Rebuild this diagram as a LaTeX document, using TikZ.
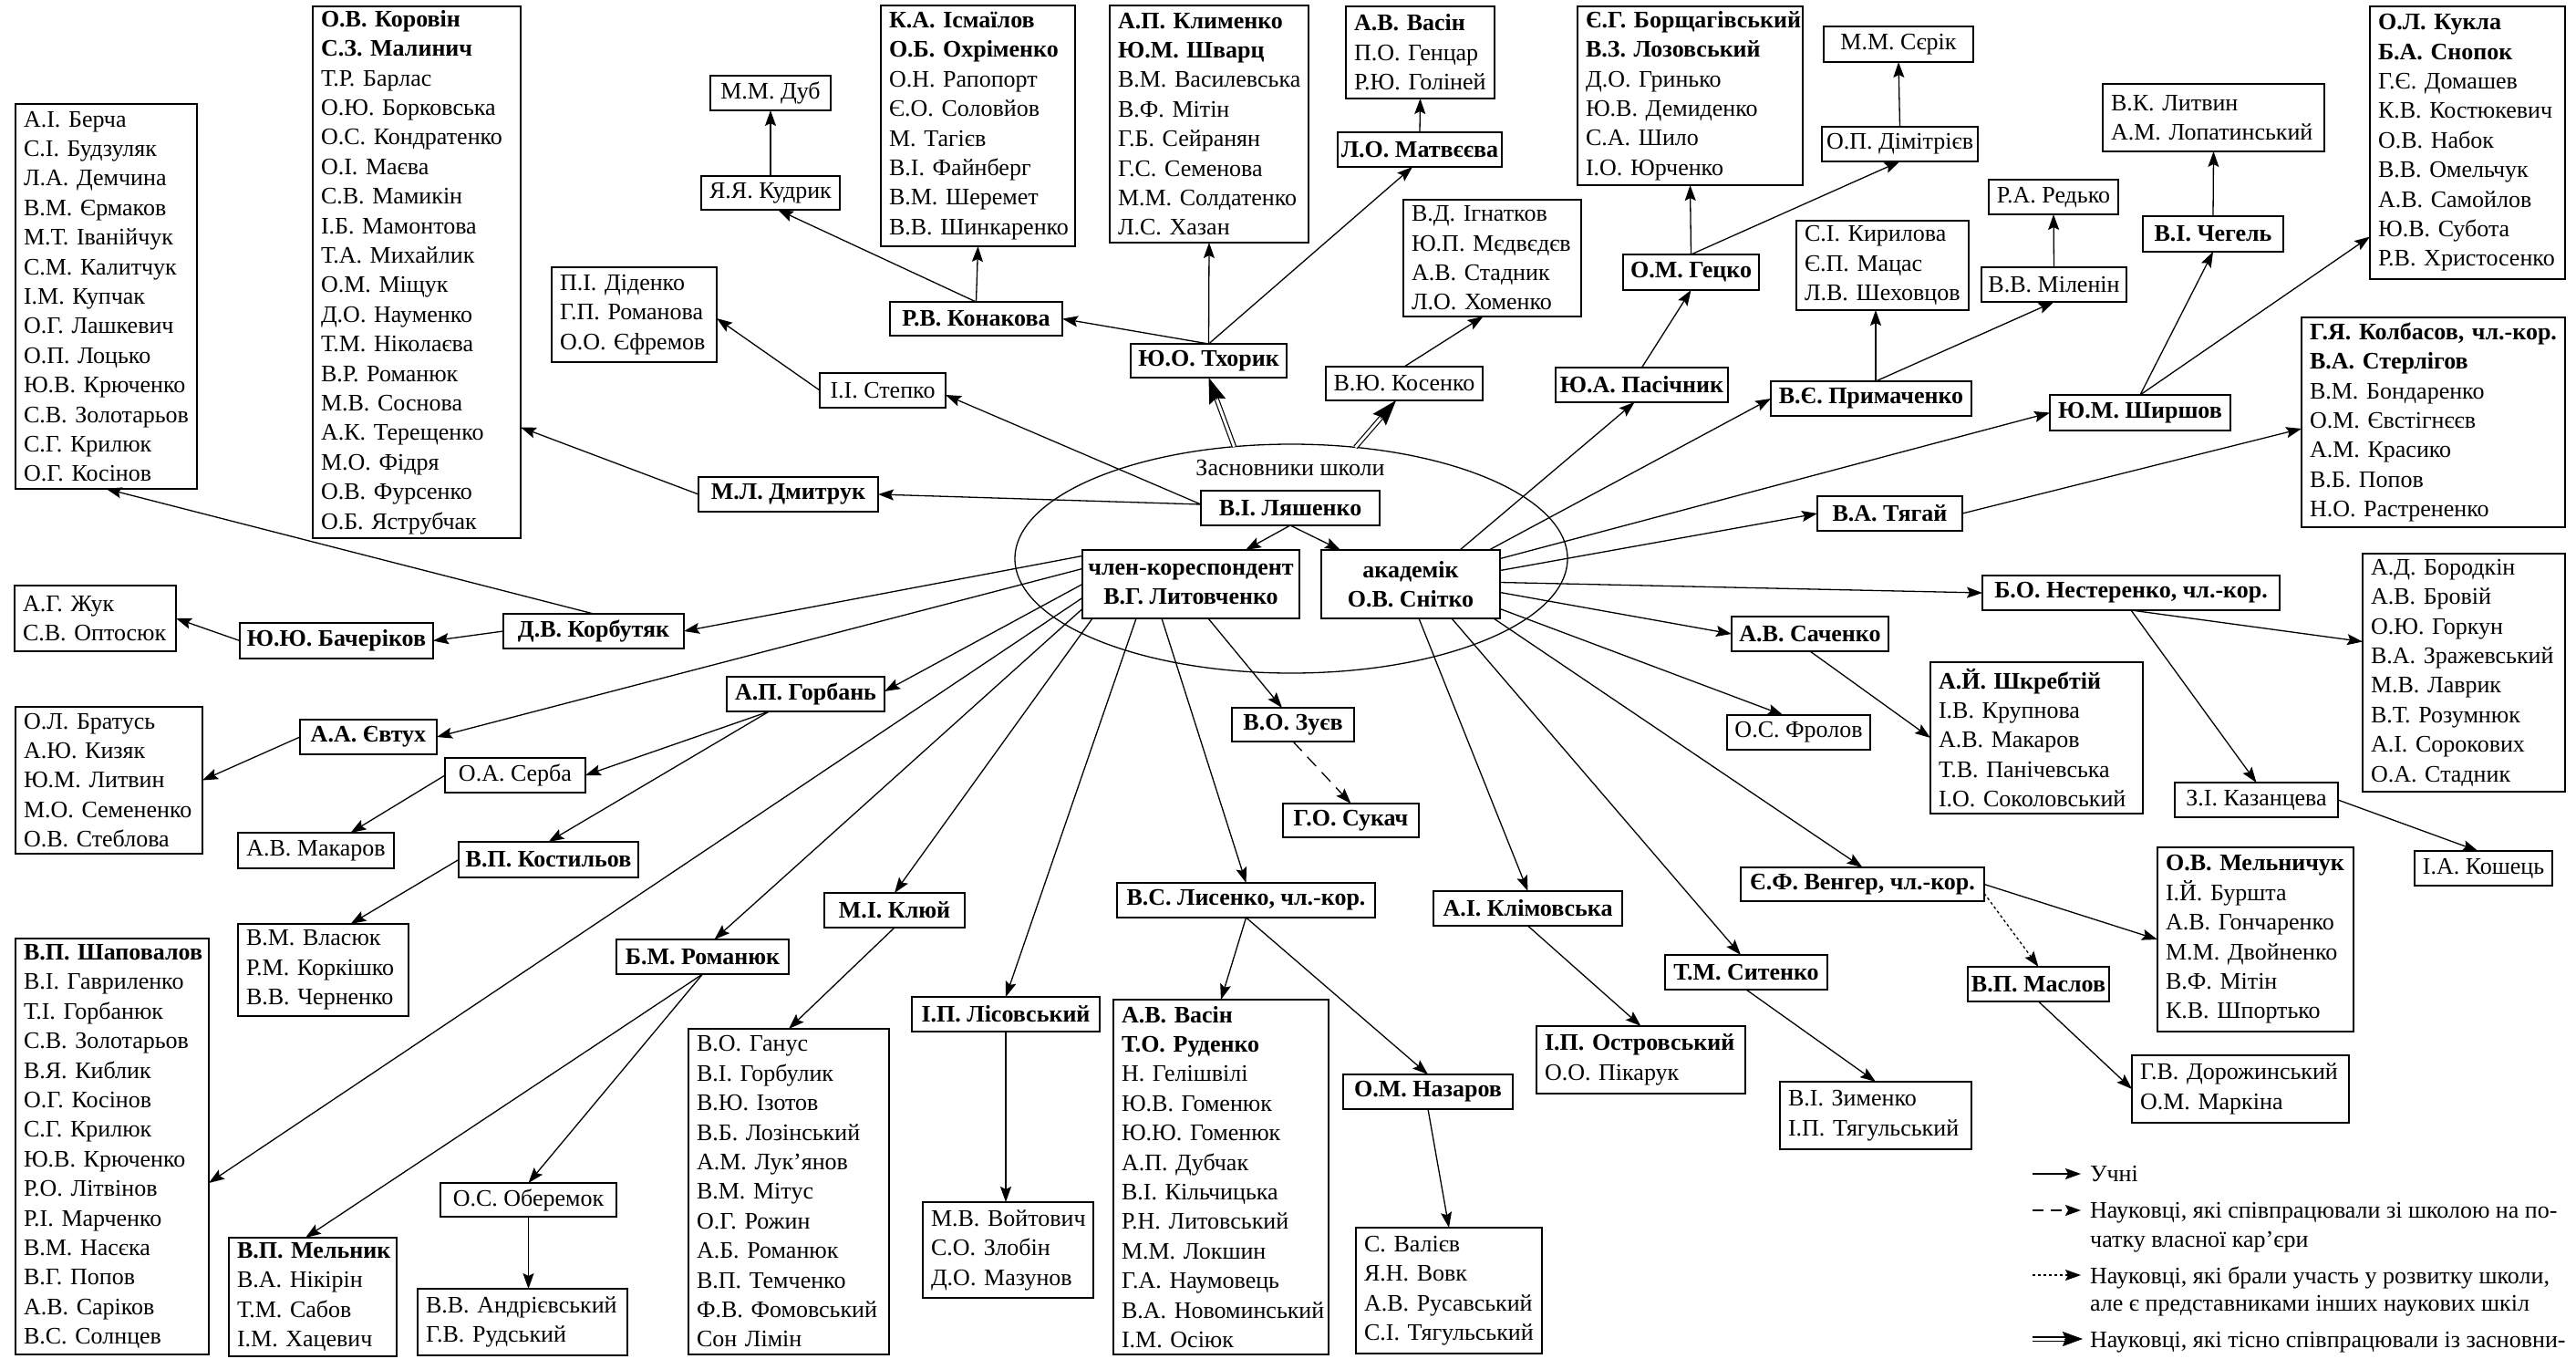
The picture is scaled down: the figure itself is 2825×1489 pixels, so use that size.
\documentclass[tikz,border=0pt]{standalone}
\usepackage{fontspec}
\setmainfont{Liberation Serif}
\usetikzlibrary{arrows.meta,shapes.geometric,calc}
\tikzset{
 base/.style={font=\fontsize{26}{32.4}\selectfont},
 lst/.style={base, draw, fill=white, line width=1.8pt, align=left, inner xsep=9pt, inner ysep=0pt, outer sep=0pt},
 one/.style={base, draw, fill=white, line width=1.8pt, align=center, inner sep=0pt, outer sep=0pt},
 stu/.style={line width=1.3pt, -{Stealth[length=17pt,width=12pt,inset=3pt]}},
 early/.style={stu, dash pattern=on 14pt off 9pt},
 other/.style={stu, dash pattern=on 3pt off 3pt},
 dblshaft/.style={line width=1.2pt, double, double distance=3pt},
 dbltip/.style={line width=1pt, -{Stealth[length=28pt,width=19pt,inset=4pt]}},
}
\newcommand\Lbx[6]{\pgfmathsetmacro\bw{#4-#2}\pgfmathsetmacro\bh{#5-#3}\pgfmathsetmacro\tw{#4-#2-18}%
 \node[lst, minimum width=\bw pt, minimum height=\bh pt, text width=\tw pt] (#1) at ({(#2+#4)/2},{(#3+#5)/2}) {#6};}
\newcommand\Obx[6]{\pgfmathsetmacro\bw{#4-#2}\pgfmathsetmacro\bh{#5-#3}%
 \node[one, minimum width=\bw pt, minimum height=\bh pt] (#1) at ({(#2+#4)/2},{(#3+#5)/2}) {#6};}
\begin{document}
\begin{tikzpicture}[x=1pt,y=-1pt]
\fill[white] (0,0) rectangle (2825,1489);
\useasboundingbox (0,0) rectangle (2825,1489);
\node[draw, ellipse, line width=1.3pt, minimum width=606pt, minimum height=251pt, inner sep=0pt, outer sep=0pt] (ell) at (1416,612.5) {};
\node[base, inner sep=0pt] (lbl) at (1415,513) {Засновники школи};
% boxes
\Lbx{L1}{17}{114}{216}{536}{А.І.~Берча\\С.І.~Будзуляк\\Л.А.~Демчина\\В.М.~Єрмаков\\М.Т.~Іванійчук\\С.М.~Калитчук\\І.М.~Купчак\\О.Г.~Лашкевич\\О.П.~Лоцько\\Ю.В.~Крюченко\\С.В.~Золотарьов\\С.Г.~Крилюк\\О.Г.~Косінов}
\Lbx{kor}{343}{7}{571}{590}{\textbf{О.В.~Коровін}\\\textbf{С.З.~Малинич}\\Т.Р.~Барлас\\О.Ю.~Борковська\\О.С.~Кондратенко\\О.І.~Маєва\\С.В.~Мамикін\\І.Б.~Мамонтова\\Т.А.~Михайлик\\О.М.~Міщук\\Д.О.~Науменко\\Т.М.~Ніколаєва\\В.Р.~Романюк\\М.В.~Соснова\\А.К.~Терещенко\\М.О.~Фідря\\О.В.~Фурсенко\\О.Б.~Яструбчак}
\Lbx{did}{605}{293}{786}{397}{П.І.~Діденко\\Г.П.~Романова\\О.О.~Єфремов}
\Obx{dub}{779}{83}{911}{121}{М.М.~Дуб}
\Obx{kud}{769}{193}{921}{230}{Я.Я.~Кудрик}
\Lbx{ism}{966}{6}{1179}{270}{\textbf{К.А.~Ісмаїлов}\\\textbf{О.Б.~Охріменко}\\О.Н.~Рапопорт\\Є.О.~Соловйов\\М.~Тагієв\\В.І.~Файнберг\\В.М.~Шеремет\\В.В.~Шинкаренко}
\Lbx{klm}{1217}{6}{1435}{266}{\textbf{А.П.~Клименко}\\\textbf{Ю.М.~Шварц}\\В.М.~Василевська\\В.Ф.~Мітін\\Г.Б.~Сейранян\\Г.С.~Семенова\\М.М.~Солдатенко\\Л.С.~Хазан}
\Obx{kon}{976}{331}{1165}{368}{\textbf{Р.В.~Конакова}}
\Obx{tkh}{1240}{377}{1411}{414}{\textbf{Ю.О.~Тхорик}}
\Obx{stp}{899}{409}{1037}{447}{І.І.~Степко}
\Obx{dmt}{766}{523}{963}{561}{\textbf{М.Л.~Дмитрук}}
\Lbx{vas}{1476}{7}{1639}{108}{\textbf{А.В.~Васін}\\П.О.~Генцар\\Р.Ю.~Голіней}
\Obx{mat}{1467}{145}{1647}{183}{\textbf{Л.О.~Матвєєва}}
\Lbx{ign}{1539}{219}{1734}{347}{В.Д.~Ігнатков\\Ю.П.~Мєдвєдєв\\А.В.~Стадник\\Л.О.~Хоменко}
\Obx{kos}{1454}{402}{1626}{439}{В.Ю.~Косенко}
\Lbx{bor}{1730}{7}{1977}{203}{\textbf{Є.Г.~Борщагівський}\\\textbf{В.З.~Лозовський}\\Д.О.~Гринько\\Ю.В.~Демиденко\\С.А.~Шило\\І.О.~Юрченко}
\Obx{gec}{1780}{279}{1929}{318}{\textbf{О.М.~Гецко}}
\Obx{ser}{2000}{29}{2164}{68}{М.М.~Сєрік}
\Obx{dim}{1998}{139}{2169}{177}{О.П.~Дімітрієв}
\Lbx{kyr}{1970}{242}{2159}{340}{С.І.~Кирилова\\Є.П.~Мацас\\Л.В.~Шеховцов}
\Obx{pas}{1706}{403}{1895}{441}{\textbf{Ю.А.~Пасічник}}
\Obx{prm}{1942}{418}{2162}{456}{\textbf{В.Є.~Примаченко}}
\Obx{red}{2181}{197}{2323}{235}{Р.А.~Редько}
\Obx{mil}{2173}{293}{2332}{331}{В.В.~Міленін}
\Lbx{lit}{2306}{92}{2549}{166}{В.К.~Литвин\\А.М.~Лопатинський}
\Obx{chg}{2350}{237}{2504}{276}{\textbf{В.І.~Чегель}}
\Obx{shr}{2248}{433}{2446}{472}{\textbf{Ю.М.~Ширшов}}
\Lbx{kuk}{2599}{7}{2813}{306}{\textbf{О.Л.~Кукла}\\\textbf{Б.А.~Снопок}\\Г.Є.~Домашев\\К.В.~Костюкевич\\О.В.~Набок\\В.В.~Омельчук\\А.В.~Самойлов\\Ю.В.~Субота\\Р.В.~Христосенко}
\Lbx{kol}{2524}{348}{2813}{578}{\textbf{\mbox{Г.Я.~Колбасов, чл.-кор.}}\\\textbf{В.А.~Стерлігов}\\В.М.~Бондаренко\\О.М.~Євстігнєєв\\А.М.~Красико\\В.Б.~Попов\\Н.О.~Растрененко}
\Obx{tyg}{1993}{544}{2152}{582}{\textbf{В.А.~Тягай}}
\Obx{nes}{2174}{631}{2500}{669}{\textbf{\mbox{Б.О.~Нестеренко, чл.-кор.}}}
\Lbx{brd}{2591}{607}{2813}{868}{А.Д.~Бородкін\\А.В.~Бровій\\О.Ю.~Горкун\\В.А.~Зражевський\\М.В.~Лаврик\\В.Т.~Розумнюк\\А.І.~Сорокових\\О.А.~Стадник}
\Lbx{shk}{2117}{726}{2350}{892}{\textbf{А.Й.~Шкребтій}\\І.В.~Крупнова\\А.В.~Макаров\\Т.В.~Панічевська\\І.О.~Соколовський}
\Obx{kaz}{2385}{858}{2564}{896}{З.І.~Казанцева}
\Obx{kos2}{2648}{933}{2799}{971}{І.А.~Кошець}
\Lbx{mln}{2366}{929}{2581}{1131}{\textbf{О.В.~Мельничук}\\І.Й.~Буршта\\А.В.~Гончаренко\\М.М.~Двойненко\\В.Ф.~Мітін\\К.В.~Шпортько}
\Obx{snt}{1449}{603}{1645}{678}{\textbf{академік}\\\textbf{О.В.~Снітко}}
\Obx{lya}{1317}{538}{1513}{576}{\textbf{В.І.~Ляшенко}}
\Obx{lyt}{1187}{603}{1425}{678}{\textbf{член-кореспондент}\\\textbf{В.Г.~Литовченко}}
\Obx{sach}{1899}{676}{2071}{714}{\textbf{А.В.~Саченко}}
\Obx{frl}{1894}{784}{2051}{822}{О.С.~Фролов}
\Obx{ven}{1909}{951}{2176}{988}{\textbf{\mbox{Є.Ф.~Венгер, чл.-кор.}}}
\Obx{sit}{1826}{1047}{2004}{1085}{\textbf{Т.М.~Ситенко}}
\Obx{klv}{1572}{977}{1779}{1015}{\textbf{А.І.~Клімовська}}
\Obx{zuv}{1351}{776}{1485}{813}{\textbf{В.О.~Зуєв}}
\Obx{suk}{1407}{881}{1556}{918}{\textbf{Г.О.~Сукач}}
\Obx{lys}{1225}{968}{1508}{1006}{\textbf{\mbox{В.С.~Лисенко, чл.-кор.}}}
\Obx{krb}{552}{673}{750}{711}{\textbf{Д.В.~Корбутяк}}
\Obx{bch}{263}{683}{475}{722}{\textbf{Ю.Ю.~Бачеріков}}
\Lbx{zhk}{16}{642}{193}{714}{А.Г.~Жук\\С.В.~Оптосюк}
\Lbx{brt}{17}{775}{222}{936}{О.Л.~Братусь\\А.Ю.~Кизяк\\Ю.М.~Литвин\\М.О.~Семененко\\О.В.~Стеблова}
\Obx{evt}{329}{789}{479}{827}{\textbf{А.А.~Євтух}}
\Obx{grb}{797}{742}{970}{780}{\textbf{А.П.~Горбань}}
\Obx{srb}{488}{831}{642}{869}{О.А.~Серба}
\Obx{mak}{261}{913}{432}{952}{А.В.~Макаров}
\Obx{kst}{503}{923}{700}{962}{\textbf{В.П.~Костильов}}
\Lbx{vls}{261}{1013}{448}{1114}{В.М.~Власюк\\Р.М.~Коркішко\\В.В.~Черненко}
\Lbx{shp}{17}{1029}{229}{1485}{\textbf{В.П.~Шаповалов}\\В.І.~Гавриленко\\Т.І.~Горбанюк\\С.В.~Золотарьов\\В.Я.~Киблик\\О.Г.~Косінов\\С.Г.~Крилюк\\Ю.В.~Крюченко\\Р.О.~Літвінов\\Р.І.~Марченко\\В.М.~Насєка\\В.Г.~Попов\\А.В.~Саріков\\В.С.~Солнцев}
\Obx{rmn}{676}{1030}{865}{1068}{\textbf{Б.М.~Романюк}}
\Lbx{mel}{251}{1357}{435}{1487}{\textbf{В.П.~Мельник}\\В.А.~Нікірін\\Т.М.~Сабов\\І.М.~Хацевич}
\Obx{obr}{483}{1297}{676}{1334}{О.С.~Оберемок}
\Lbx{and}{458}{1413}{688}{1486}{В.В.~Андрієвський\\Г.В.~Рудський}
\Obx{klj}{904}{979}{1058}{1017}{\textbf{М.І.~Клюй}}
\Lbx{gns}{755}{1128}{975}{1485}{В.О.~Ганус\\В.І.~Горбулик\\В.Ю.~Ізотов\\В.Б.~Лозінський\\А.М.~Лук’янов\\В.М.~Мітус\\О.Г.~Рожин\\А.Б.~Романюк\\В.П.~Темченко\\Ф.В.~Фомовський\\Сон~Лімін}
\Obx{lis}{1000}{1093}{1206}{1131}{\textbf{І.П.~Лісовський}}
\Lbx{vjt}{1012}{1318}{1199}{1423}{М.В.~Войтович\\С.О.~Злобін\\Д.О.~Мазунов}
\Lbx{vs2}{1221}{1096}{1457}{1485}{\textbf{А.В.~Васін}\\\textbf{Т.О.~Руденко}\\Н.~Гелішвілі\\Ю.В.~Гоменюк\\Ю.Ю.~Гоменюк\\А.П.~Дубчак\\В.І.~Кільчицька\\Р.Н.~Литовський\\М.М.~Локшин\\Г.А.~Наумовець\\В.А.~Новоминський\\І.М.~Осіюк}
\Obx{naz}{1473}{1178}{1659}{1216}{\textbf{О.М.~Назаров}}
\Lbx{val}{1487}{1346}{1691}{1484}{С.~Валієв\\Я.Н.~Вовк\\А.В.~Русавський\\С.І.~Тягульський}
\Lbx{ost}{1685}{1125}{1914}{1199}{\textbf{І.П.~Островський}\\О.О.~Пікарук}
\Lbx{zim}{1952}{1186}{2162}{1260}{В.І.~Зименко\\І.П.~Тягульський}
\Obx{msl}{2158}{1060}{2313}{1098}{\textbf{В.П.~Маслов}}
\Lbx{dor}{2338}{1157}{2576}{1231}{Г.В.~Дорожинський\\О.М.~Маркіна}
% connectors
\draw[stu] (kon.north) -- (ism.south);
\draw[stu] (kon.north) -- ([xshift=8pt]kud.south);
\draw[stu] (kud.north) -- (dub.south);
\draw[stu] (tkh.north) -- (kon.east);
\draw[stu] (tkh.north) -- (klm.south);
\draw[stu] (tkh.north) -- ([xshift=-8pt]mat.south);
\draw[stu] (mat.north) -- (vas.south);
\draw[stu] (stp.west) -- ([yshift=-4pt]did.east);
\coordinate (lyaw) at ([yshift=4pt]lya.west);
\draw[stu] (lyaw) -- ([yshift=-5pt]stp.east);
\draw[stu] (lyaw) -- (dmt.east);
\draw[stu] (dmt.west) -- ([yshift=-170pt]kor.east);
\draw[stu] (lya.south) -- ([xshift=60pt]lyt.north);
\draw[stu] (lya.south) -- ([xshift=-77pt]snt.north);
\draw[stu] ([yshift=31pt]lyt.west) -- (krb.east);
\draw[stu] ([yshift=17pt]lyt.west) -- (evt.east);
\draw[stu] (lyt.west) -- ([yshift=3pt]grb.east);
\draw[stu] ([yshift=-15pt]lyt.west) -- ([yshift=-40pt]shp.east);
\draw[stu] ([yshift=-27pt]lyt.west) -- ([xshift=13pt]rmn.north);
\draw[stu] ([xshift=11pt]lyt.south west) -- (klj.north);
\draw[stu] ([xshift=-60pt]lyt.south) -- (lis.north);
\draw[stu] ([xshift=-32pt]lyt.south) -- (lys.north);
\draw[stu] ([xshift=19pt]lyt.south) -- ([xshift=-12pt]zuv.north);
\draw[early] (zuv.south) -- (suk.north);
\draw[stu] ([xshift=54pt]snt.north) -- ([xshift=-8pt]pas.south);
\draw[stu] ([xshift=86pt]snt.north) -- (prm.west);
\draw[stu] ([yshift=28pt]snt.east) -- (shr.west);
\draw[stu] ([yshift=15pt]snt.east) -- (tyg.west);
\draw[stu] ([yshift=2pt]snt.east) -- (nes.west);
\draw[stu] ([yshift=-9pt]snt.east) -- (sach.west);
\draw[stu] ([yshift=-27pt]snt.east) -- ([xshift=-17pt]frl.north);
\draw[stu] ([xshift=-7pt]snt.south east) -- (ven.north);
\draw[stu] ([xshift=45pt]snt.south) -- ([xshift=-6pt]sit.north);
\draw[stu] ([xshift=9pt]snt.south) -- (klv.north);
\draw[stu] (tyg.east) -- ([yshift=-7pt]kol.west);
\draw[stu] (nes.south) -- ([yshift=34pt]brd.west);
\draw[stu] (nes.south) -- (kaz.north);
\draw[stu] (kaz.east) -- ([xshift=-6pt]kos2.north);
\draw[stu] (sach.south) -- (shk.west);
\draw[stu] (shr.north) -- (chg.south);
\draw[stu] (shr.north) -- ([yshift=-103pt]kuk.west);
\draw[stu] (chg.north) -- (lit.south);
\coordinate (prmtop) at ([xshift=5pt]prm.north);
\draw[stu] (prmtop) -- (prmtop |- kyr.south);
\draw[stu] (prmtop) -- (mil.south);
\draw[stu] (mil.north) -- (red.south);
\draw[stu] (pas.north) -- (gec.south);
\draw[stu] (gec.north) -- (bor.south);
\draw[stu] (gec.north) -- (dim.south);
\draw[stu] (dim.north) -- (ser.south);
\draw[stu] (kos.north) -- ([xshift=-10pt]ign.south);
\draw[stu] (krb.north) -- (L1.south);
\draw[stu] (krb.west) -- (bch.east);
\draw[stu] (bch.west) -- (zhk.east);
\draw[stu] (evt.west) -- (brt.east);
\coordinate (grbs) at ([xshift=-40pt]grb.south);
\draw[stu] (grbs) -- (srb.east);
\draw[stu] (grbs) -- (kst.north);
\draw[stu] (srb.west) -- ([xshift=38pt]mak.north);
\draw[stu] (kst.west) -- ([xshift=30pt]vls.north);
\draw[stu] (rmn.south) -- ([xshift=-8pt]mel.north);
\draw[stu] (rmn.south) -- (obr.north);
\draw[stu] (obr.south) -- (obr.south |- and.north);
\draw[stu] (klj.south) -- (gns.north);
\draw[stu] (lis.south) -- (lis.south |- vjt.north);
\draw[stu] (lys.south) -- (vs2.north);
\draw[stu] (lys.south) -- (naz.north);
\draw[stu] (naz.south) -- (val.north);
\draw[stu] (klv.south) -- (ost.north);
\draw[stu] (sit.south) -- (zim.north);
\draw[stu] (ven.east) -- (mln.west);
\draw[other] ([yshift=-10pt]ven.east) -- (msl.north);
\draw[stu] (msl.south) -- (dor.west);
% double arrows
\coordinate (kosin) at ([xshift=-9pt]kos.south);
\draw[dblshaft, shorten >=20pt] (ell.117) -- (tkh.south);
\draw[dbltip] ($(tkh.south)!26pt!(ell.117)$) -- (tkh.south);
\draw[dblshaft, shorten >=20pt] (ell.60) -- (kosin);
\draw[dbltip] ($(kosin)!26pt!(ell.60)$) -- (kosin);
% legend
\coordinate (lg1a) at (2229,1287); \coordinate (lg1b) at (2282,1287);
\draw[stu] (lg1a) -- (lg1b);
\node[base, anchor=base west, inner sep=0pt] (lt1) at (2292,1295) {Учні};
\coordinate (lg2a) at (2229,1327); \coordinate (lg2b) at (2282,1327);
\draw[stu, dash pattern=on 12pt off 8pt] (lg2a) -- (lg2b);
\node[base, anchor=base west, inner sep=0pt] (lt2a) at (2292,1335) {Науковці, які співпрацювали зі школою на по-};
\node[base, anchor=base west, inner sep=0pt] (lt2b) at (2292,1367) {чатку власної кар’єри};
\coordinate (lg3a) at (2229,1398); \coordinate (lg3b) at (2282,1398);
\draw[other] (lg3a) -- (lg3b);
\node[base, anchor=base west, inner sep=0pt] (lt3a) at (2292,1407) {Науковці, які брали участь у розвитку школи,};
\node[base, anchor=base west, inner sep=0pt] (lt3b) at (2292,1437) {але є представниками інших наукових шкіл};
\coordinate (lg4a) at (2229,1468); \coordinate (lg4b) at (2284,1468);
\draw[dblshaft, shorten >=14pt] (lg4a) -- (lg4b);
\draw[line width=1pt, -{Stealth[length=22pt,width=16pt,inset=3pt]}] ($(lg4b)!20pt!(lg4a)$) -- (lg4b);
\node[base, anchor=base west, inner sep=0pt] (lt4) at (2292,1477) {Науковці, які тісно співпрацювали із засновни-};
\end{tikzpicture}
\end{document}
